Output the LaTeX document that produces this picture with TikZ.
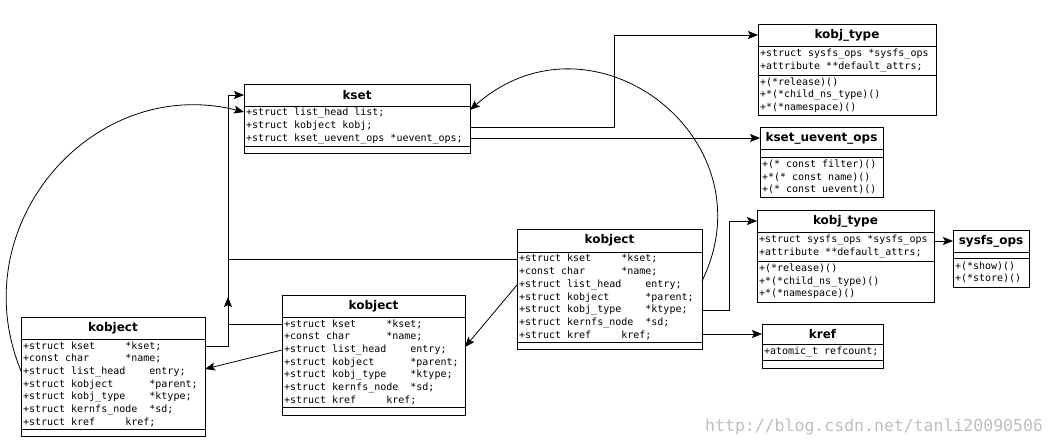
\documentclass[tikz,border=0pt]{standalone}
\usepackage{fontspec}
\usetikzlibrary{arrows.meta}
\newfontfamily\monof{DejaVu Sans Mono}
\newfontfamily\titlef{DejaVu Sans}
\newcommand\ws{\hphantom{0}}
\tikzset{
  box/.style={draw, line width=0.9pt, outer sep=0pt, anchor=north west, inner xsep=2pt, inner ysep=0pt},
  ttl/.style={box, font=\titlef\bfseries\fontsize{12}{14}\selectfont},
  att/.style={box, font=\monof\fontsize{10}{12.7}\selectfont, align=left},
  emp/.style={box},
  conn/.style={line width=0.8pt, -{Stealth[length=10pt,width=8pt,inset=2pt]}},
  plain/.style={line width=0.8pt},
  wm/.style={font=\monof\fontsize{16.5}{18}\selectfont, text=black!25, inner sep=0pt}
}
\begin{document}
\begin{tikzpicture}[x=1pt,y=-1pt]
\useasboundingbox (0,0) rectangle (1056,446);
\fill[white] (0,0) rectangle (1056,446);

% kset
\node[ttl, minimum width=226, minimum height=22] (ksetT) at (244,84) {kset};
\node[att, text width=222, minimum height=40] (ksetA) at (ksetT.south west) {+struct\ws list\_head\ws list;\\+struct\ws kobject\ws kobj;\\+struct\ws kset\_uevent\_ops\ws *uevent\_ops;};
\node[emp, minimum width=226, minimum height=7] (ksetE) at (ksetA.south west) {};

% kobj_type (top)
\node[ttl, minimum width=178, minimum height=22] (kt1T) at (758,24) {kobj\_type};
\node[att, text width=174, minimum height=29] (kt1A) at (kt1T.south west) {+struct\ws sysfs\_ops\ws *sysfs\_ops\\+attribute\ws **default\_attrs;};
\node[att, text width=174, minimum height=40] (kt1M) at (kt1A.south west) {+(*release)()\\+*(*child\_ns\_type)()\\+*(*namespace)()};

% kset_uevent_ops
\node[ttl, minimum width=123, minimum height=22] (kuoT) at (760,127) {kset\_uevent\_ops};
\node[emp, minimum width=123, minimum height=8] (kuoE) at (kuoT.south west) {};
\node[att, text width=119, minimum height=40] (kuoM) at (kuoE.south west) {+(*\ws const\ws filter)()\\+*(*\ws const\ws name)()\\+(*\ws const\ws uevent)()};

% kobj_type (middle)
\node[ttl, minimum width=177, minimum height=22] (kt2T) at (757,210) {kobj\_type};
\node[att, text width=173, minimum height=29] (kt2A) at (kt2T.south west) {+struct\ws sysfs\_ops\ws *sysfs\_ops\\+attribute\ws **default\_attrs;};
\node[att, text width=173, minimum height=41] (kt2M) at (kt2A.south west) {+(*release)()\\+*(*child\_ns\_type)()\\+*(*namespace)()};

% sysfs_ops
\node[ttl, minimum width=76, minimum height=22] (sysT) at (953,230) {sysfs\_ops};
\node[emp, minimum width=76, minimum height=6] (sysE) at (sysT.south west) {};
\node[att, text width=72, minimum height=29] (sysM) at (sysE.south west) {+(*show)()\\+(*store)()};

% kref
\node[ttl, minimum width=121, minimum height=20] (krefT) at (762,324) {kref};
\node[att, text width=117, minimum height=16] (krefA) at (krefT.south west) {+atomic\_t\ws refcount;};
\node[emp, minimum width=121, minimum height=8] (krefE) at (krefA.south west) {};

% kobject (center)
\node[ttl, minimum width=185, minimum height=23] (kobCT) at (517,229) {kobject};
\node[att, text width=181, minimum height=90] (kobCA) at (kobCT.south west) {+struct\ws kset\ws\ws\ws\ws\ws *kset;\\+const\ws char\ws\ws\ws\ws\ws\ws *name;\\+struct\ws list\_head\ws\ws\ws\ws entry;\\+struct\ws kobject\ws\ws\ws\ws\ws\ws *parent;\\+struct\ws kobj\_type\ws\ws\ws\ws *ktype;\\+struct\ws kernfs\_node\ws\ws *sd;\\+struct\ws kref\ws\ws\ws\ws\ws kref;};
\node[emp, minimum width=185, minimum height=7] (kobCE) at (kobCA.south west) {};

% kobject (middle)
\node[ttl, minimum width=183, minimum height=22] (kobMT) at (282,295) {kobject};
\node[att, text width=179, minimum height=90] (kobMA) at (kobMT.south west) {+struct\ws kset\ws\ws\ws\ws\ws *kset;\\+const\ws char\ws\ws\ws\ws\ws\ws *name;\\+struct\ws list\_head\ws\ws\ws\ws entry;\\+struct\ws kobject\ws\ws\ws\ws\ws\ws *parent;\\+struct\ws kobj\_type\ws\ws\ws\ws *ktype;\\+struct\ws kernfs\_node\ws\ws *sd;\\+struct\ws kref\ws\ws\ws\ws\ws kref;};
\node[emp, minimum width=183, minimum height=8] (kobME) at (kobMA.south west) {};

% kobject (left)
\node[ttl, minimum width=184, minimum height=22] (kobLT) at (21,317) {kobject};
\node[att, text width=180, minimum height=90] (kobLA) at (kobLT.south west) {+struct\ws kset\ws\ws\ws\ws\ws *kset;\\+const\ws char\ws\ws\ws\ws\ws\ws *name;\\+struct\ws list\_head\ws\ws\ws\ws entry;\\+struct\ws kobject\ws\ws\ws\ws\ws\ws *parent;\\+struct\ws kobj\_type\ws\ws\ws\ws *ktype;\\+struct\ws kernfs\_node\ws\ws *sd;\\+struct\ws kref\ws\ws\ws\ws\ws kref;};
\node[emp, minimum width=184, minimum height=7] (kobLE) at (kobLA.south west) {};

% connectors
\draw[conn] (ksetA.east |- 0,127) -- (614,127) |- (kt1T.west);
\draw[conn] (ksetA.east |- kuoT.west) -- (kuoT.west);
\draw[conn] (kobCA.east |- 0,281) .. controls (772,138) and (592,2) .. (ksetA.east |- 0,110);
\draw[conn] (kobCA.east |- 0,310) -- (729,310) |- (kt2T.west);
\draw[conn] (kobCA.east |- krefT.west) -- (krefT.west);
\draw[conn] (kt2A.east |- sysT.west) -- (sysT.west);
\draw[conn] (kobMA.west |- 0,324) -- (228,324) |- (ksetT.west);
\draw[conn] (kobLA.east |- 0,346) -- (228,346) -- (228,297);
\draw[plain] (kobCA.west |- 0,259) -- (228,259);
\draw[conn] (kobMA.west |- 0,350) -- (kobLA.east |- 0,369);
\draw[conn] (kobCA.west |- 0,285) -- (kobMA.east |- 0,347);
\draw[conn] (kobLA.west |- 0,371) .. controls (-39,225) and (93,74) .. (ksetA.west |- 0,112);

% watermark
\node[wm, anchor=base west] (wmark) at (705,431) {http://blog.csdn.net/tanli20090506};
\end{tikzpicture}
\end{document}
